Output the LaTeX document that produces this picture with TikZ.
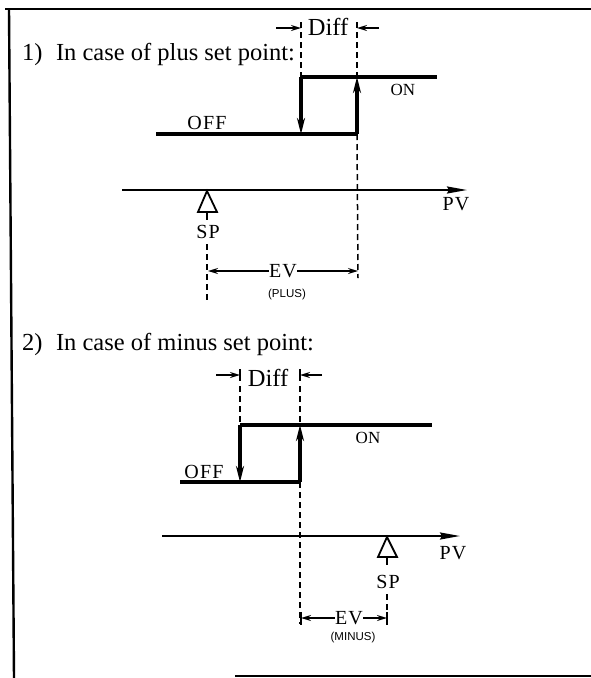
\documentclass[tikz,border=0pt]{standalone}
\usepackage{fontspec}
\setmainfont{Liberation Serif}
\setsansfont{Liberation Sans}
\newfontfamily\spacedserif[LetterSpace=6]{Liberation Serif}
\usetikzlibrary{arrows.meta}
\begin{document}
\begin{tikzpicture}[x=1pt,y=-1pt,
  frame/.style={line width=2.4pt},
  stepline/.style={line width=3.2pt},
  axis/.style={line width=2pt,-{Stealth[length=20pt,width=7pt,inset=2pt]}},
  dashln/.style={line width=1.5pt,dash pattern=on 6pt off 4pt},
  tipline/.style={line width=1.5pt,-{Stealth[length=10pt,width=6pt]}},
  vtip/.style={line width=3.2pt,-{Stealth[length=16pt,width=8pt]}},
  title/.style={font=\fontsize{24.5}{28}\selectfont,anchor=west,inner sep=0pt},
  lbl/.style={font=\fontsize{24.5}{28}\selectfont,inner sep=0pt},
  onlbl/.style={font=\fontsize{17}{20}\selectfont,inner sep=0pt},
  mlbl/.style={font=\spacedserif\fontsize{20}{22}\selectfont,inner sep=0pt},
  small/.style={font=\sffamily\fontsize{11.5}{13}\selectfont,inner sep=0pt},
  tri/.style={line width=1.8pt,fill=white}]
\useasboundingbox (0,0) rectangle (591,678);
% frame
\coordinate (ftl) at (5,9); \coordinate (ftr) at (591,9);
\coordinate (flt) at (9,9); \coordinate (flb) at (14,678);
\coordinate (fbl) at (235,676); \coordinate (fbr) at (591,676);
\draw[frame] (ftl) -- (ftr);
\draw[frame] (flt) -- (flb);
\draw[frame] (fbl) -- (fbr);

% ===== Section 1 =====
\node[title] (t1) at (22,54) {1)\hspace{0.55em}In case of plus set point:};
\node[lbl] (diff1) at (328,27) {Diff};
\coordinate (da1) at (301,28); \coordinate (db1) at (357,28);
\coordinate (la1) at (276,28); \coordinate (lb1) at (379,28);
\draw[tipline] (la1) -- (da1);
\draw[tipline] (lb1) -- (db1);
\coordinate (a1) at (301,77); \coordinate (b1) at (357,77); \coordinate (c1) at (437,77);
\coordinate (d1) at (156,134); \coordinate (e1) at (301,134); \coordinate (f1) at (357,134);
\coordinate (ua1) at (301,22); \coordinate (ub1) at (357,22);
\coordinate (gb1) at (358,278);
\draw[dashln] (ua1) -- (a1);
\draw[dashln] (ub1) -- (b1);
\draw[dashln] (f1) -- (gb1);
\draw[stepline] (d1) -- (f1);
\draw[stepline] (a1) -- (c1);
\draw[vtip] (a1) -- (e1);
\draw[vtip] (f1) -- (b1);
\node[onlbl] (on1) at (403,90) {ON};
\node[mlbl] (off1) at (207,123) {OFF};
\coordinate (p1s) at (122,190); \coordinate (p1e) at (467,190);
\draw[axis] (p1s) -- (p1e);
\node[mlbl] (pv1) at (456,204) {PV};
\coordinate (ta1) at (207,191);
\draw[tri] (ta1) -- (198,212) -- (217,212) -- cycle;
\coordinate (tk1a) at (207,212); \coordinate (tk1b) at (207,220);
\draw[line width=1.5pt] (tk1a) -- (tk1b);
\node[mlbl] (sp1) at (208,232) {SP};
\coordinate (sd1a) at (207,244); \coordinate (sd1b) at (207,300);
\draw[dashln] (sd1a) -- (sd1b);
\node[mlbl] (ev1) at (283,271) {EV};
\coordinate (el1) at (208,271); \coordinate (er1) at (358,271);
\draw[tipline] (ev1.west) -- (el1);
\draw[tipline] (ev1.east) -- (er1);
\node[small] (plus) at (287,295) {(PLUS)};

% ===== Section 2 =====
\node[title] (t2) at (22,344) {2)\hspace{0.55em}In case of minus set point:};
\node[lbl] (diff2) at (268,378) {Diff};
\coordinate (da2) at (240,375); \coordinate (db2) at (300,375);
\coordinate (la2) at (216,375); \coordinate (lb2) at (322,375);
\draw[tipline] (la2) -- (da2);
\draw[tipline] (lb2) -- (db2);
\draw[line width=1.5pt] (240,369) -- (240,381);
\draw[line width=1.5pt] (300,369) -- (300,381);
\coordinate (a2) at (240,425); \coordinate (b2) at (300,425); \coordinate (c2) at (432,425);
\coordinate (d2) at (180,482); \coordinate (e2) at (240,482); \coordinate (f2) at (300,482);
\coordinate (ua2) at (240,386); \coordinate (ub2) at (300,386);
\coordinate (gb2) at (300,624);
\draw[dashln] (ua2) -- (a2);
\draw[dashln] (ub2) -- (b2);
\draw[dashln] (f2) -- (gb2);
\draw[stepline] (d2) -- (f2);
\draw[stepline] (a2) -- (c2);
\draw[vtip] (a2) -- (e2);
\draw[vtip] (f2) -- (b2);
\node[onlbl] (on2) at (368,438) {ON};
\node[mlbl] (off2) at (204,472) {OFF};
\coordinate (p2s) at (162,536); \coordinate (p2e) at (460,536);
\draw[axis] (p2s) -- (p2e);
\node[mlbl] (pv2) at (453,553) {PV};
\coordinate (ta2) at (387,537);
\draw[tri] (ta2) -- (378,557) -- (397,557) -- cycle;
\coordinate (tk2a) at (387,557); \coordinate (tk2b) at (387,565);
\draw[line width=1.5pt] (tk2a) -- (tk2b);
\node[mlbl] (sp2) at (388,582) {SP};
\coordinate (sd2a) at (387,594); \coordinate (sd2b) at (387,624);
\draw[dashln] (sd2a) -- (sd2b);
\node[mlbl] (ev2) at (349,618) {EV};
\coordinate (el2) at (301,618); \coordinate (er2) at (387,618);
\draw[tipline] (ev2.west) -- (el2);
\draw[tipline] (ev2.east) -- (er2);
\draw[line width=1.5pt] (301,612) -- (301,625);
\draw[line width=1.5pt] (387,612) -- (387,625);
\node[small] (minus) at (353,638) {(MINUS)};
\end{tikzpicture}
\end{document}
